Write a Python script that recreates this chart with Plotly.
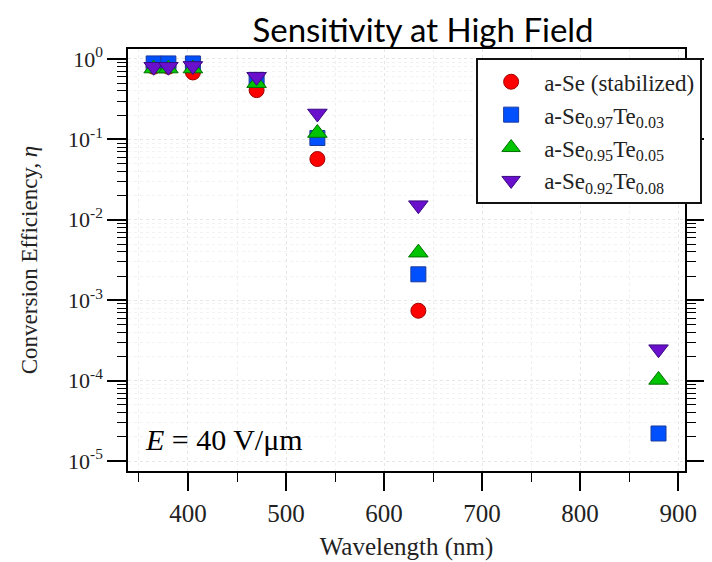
import plotly.graph_objects as go

wavelength = [365, 380, 405, 470, 532, 635, 880]
eta_se = [0.80, 0.80, 0.68, 0.41, 0.057, 0.00074, None]
eta_se97 = [0.88, 0.88, 0.88, 0.55, 0.104, 0.0021, 2.2e-5]
eta_se95 = [0.76, 0.76, 0.76, 0.50, 0.12, 0.0039, 1.02e-4]
eta_se92 = [0.80, 0.80, 0.82, 0.60, 0.21, 0.0152, 2.46e-4]

names = ["a-Se (stabilized)", "a-Se<sub>0.97</sub>Te<sub>0.03</sub>",
         "a-Se<sub>0.95</sub>Te<sub>0.05</sub>", "a-Se<sub>0.92</sub>Te<sub>0.08</sub>"]
series = [eta_se, eta_se97, eta_se95, eta_se92]
symbols = ["circle", "square", "triangle-up", "triangle-down"]
fills = ["#ff0000", "#0050ff", "#00c400", "#6a0fcc"]
edges = ["#a00000", "#1a3a9a", "#007000", "#3a0a80"]
sizes = [15, 15, 17, 17]

ytick_vals = [1, 0.1, 0.01, 0.001, 1e-4, 1e-5]
ytick_text = ["10<sup>0</sup>", "10<sup>-1</sup>", "10<sup>-2</sup>",
              "10<sup>-3</sup>", "10<sup>-4</sup>", "10<sup>-5</sup>"]
xtick_vals = [400, 500, 600, 700, 800, 900]

fig = go.Figure()
for n, s, sym, fc, ec, sz in zip(names, series, symbols, fills, edges, sizes):
    fig.add_trace(go.Scatter(
        x=wavelength, y=s, mode="markers", name=n,
        marker=dict(symbol=sym, size=sz, color=fc, line=dict(color=ec, width=1)),
    ))

serif = "Liberation Serif"
txt = "#222"
minor_y = [m * 10 ** k for k in range(-5, 0) for m in range(2, 10)]

# page body has an 8px margin, so the figure is 8px smaller than the window
fig.update_layout(
    width=704, height=554,
    margin=dict(l=120, r=27, t=41, b=91, autoexpand=False),
    paper_bgcolor="white", plot_bgcolor="white",
    title=dict(text="Sensitivity at High Field", x=0.5895, xanchor="center",
               y=0.9603, yanchor="middle", yref="container",
               font=dict(family="Lato", size=33, color="black")),
    font=dict(family=serif, color=txt),
    legend=dict(x=0.625, y=0.978, xanchor="left", yanchor="top",
                bgcolor="white", bordercolor="#111", borderwidth=2,
                font=dict(family=serif, size=23, color=txt),
                tracegroupgap=0, itemwidth=56),
    showlegend=True,
)

fig.update_xaxes(
    range=[338.8, 907], tickvals=xtick_vals, automargin=False,
    ticks="outside", ticklen=18, tickwidth=1.5, tickcolor="black",
    showline=True, linecolor="black", linewidth=1.5, mirror=True,
    showgrid=True, gridcolor="#e6e6e6", griddash="dot", gridwidth=1,
    zeroline=False,
    minor=dict(dtick=50, tick0=0, ticks="outside", ticklen=9, tickcolor="black",
               tickwidth=1.2, showgrid=True, gridcolor="#efefef", griddash="dot"),
    tickfont=dict(family=serif, size=25, color=txt), ticklabelstandoff=1,
    title=dict(text="Wavelength (nm)", font=dict(family=serif, size=25, color=txt),
               standoff=12),
)
fig.update_yaxes(
    type="log", range=[-5.124, 0.124], tickvals=ytick_vals, ticktext=ytick_text,
    automargin=False,
    ticks="outside", ticklen=19, tickwidth=1.5, tickcolor="black",
    showline=True, linecolor="black", linewidth=1.5, mirror="ticks",
    showgrid=True, gridcolor="#e6e6e6", griddash="dot", gridwidth=1,
    zeroline=False,
    minor=dict(tickvals=minor_y, ticks="outside", ticklen=9, tickcolor="black",
               tickwidth=1.2, showgrid=True, gridcolor="#f2f2f2", griddash="dot"),
    tickfont=dict(family=serif, size=22, color=txt), ticklabelstandoff=0,
    title=dict(text="Conversion Efficiency, <i>η</i>",
               font=dict(family=serif, size=23, color=txt), standoff=24),
)

fig.add_annotation(
    text="<i>E</i> = 40 V/μm", xref="paper", yref="paper",
    x=0.027, y=0.075, xanchor="left", yanchor="middle", showarrow=False,
    font=dict(family=serif, size=30, color="black"),
)

fig.write_html("out.html")
